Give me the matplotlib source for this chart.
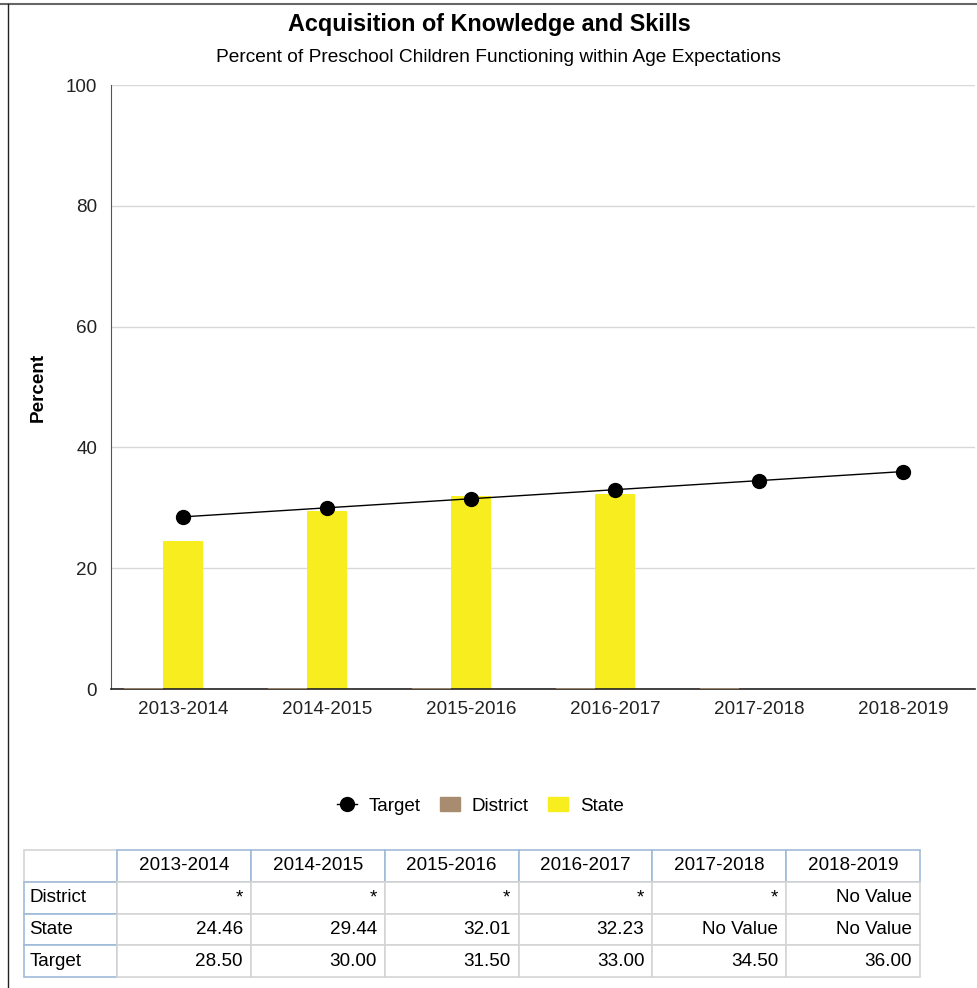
import matplotlib.pyplot as plt
from matplotlib.lines import Line2D
from matplotlib.patches import Patch
import numpy as np

plt.rcParams["font.family"] = ["Liberation Sans", "DejaVu Sans"]

years = ["2013-2014", "2014-2015", "2015-2016", "2016-2017", "2017-2018", "2018-2019"]
district = [0, 0, 0, 0, 0, np.nan]  # "*" suppressed values drawn as empty bars
state = [24.46, 29.44, 32.01, 32.23, np.nan, np.nan]
target = [28.50, 30.00, 31.50, 33.00, 34.50, 36.00]

district_txt = ["*", "*", "*", "*", "*", "No Value"]
state_txt = ["24.46", "29.44", "32.01", "32.23", "No Value", "No Value"]
target_txt = ["28.50", "30.00", "31.50", "33.00", "34.50", "36.00"]

YELLOW = "#F8EE1F"
BROWN = "#A78C70"
FS = 13.6

fig = plt.figure(figsize=(9.78, 9.88), dpi=100)
ax = fig.add_axes([111 / 978, 1 - 689 / 988, 864 / 978, 604 / 988])

x = np.arange(len(years))
w = 0.275
d = np.array(district, dtype=float)
ok = ~np.isnan(d)
ax.bar(x[ok] - w, d[ok], width=w, color=BROWN, edgecolor=BROWN, linewidth=1.2, zorder=4)
s = np.array(state, dtype=float)
ok = ~np.isnan(s)
ax.bar(x[ok], s[ok], width=w, color=YELLOW, zorder=2)
ax.plot(x, target, color="black", linewidth=1, marker="o", markersize=10, zorder=5)

ax.set_xlim(-0.5, 5.5)
ax.set_ylim(0, 100)
ax.set_yticks([0, 20, 40, 60, 80, 100])
ax.set_xticks(x)
ax.set_xticklabels(years)
ax.tick_params(axis="both", length=0, labelsize=FS, colors="#222222")
ax.tick_params(axis="x", pad=9)
ax.tick_params(axis="y", pad=10)
ax.grid(axis="y", color="#D8D8D8", linewidth=1, zorder=0)
ax.set_axisbelow(True)
for sp in ["top", "right"]:
    ax.spines[sp].set_visible(False)
ax.spines["left"].set_color("#555555")
ax.spines["bottom"].set_color("#222222")
ax.spines["bottom"].set_linewidth(1.2)
ax.set_ylabel("Percent", fontsize=FS, fontweight="bold", labelpad=14)

fig.text(489 / 978, 1 - 25 / 988, "Acquisition of Knowledge and Skills", ha="center", va="center",
         fontsize=16.8, fontweight="bold")
fig.text(499 / 978, 1 - 57 / 988, "Percent of Preschool Children Functioning within Age Expectations",
         ha="center", va="center", fontsize=13.8)

handles = [
    Line2D([0], [0], color="black", linewidth=1, marker="o", markersize=10),
    Patch(color=BROWN),
    Patch(color=YELLOW),
]
fig.legend(handles, ["Target", "District", "State"], loc="center", ncol=3,
           bbox_to_anchor=(480 / 978, 1 - 806 / 988), frameon=False, fontsize=FS,
           handlelength=1.1, handletextpad=0.6, columnspacing=1.0)

# data table
tax = fig.add_axes([24 / 978, 1 - 977 / 988, 896 / 978, 127 / 988])
tax.axis("off")
cells = [[""] + years, ["District"] + district_txt, ["State"] + state_txt, ["Target"] + target_txt]
col_w = [93 / 896] + [(896 - 93) / 6 / 896] * 6
tbl = tax.table(cellText=cells, colWidths=col_w, bbox=[0, 0, 1, 1])
tbl.auto_set_font_size(False)
BLUE = "#9FBBD8"
GRAY = "#D4D4D4"
for (r, c), cell in tbl.get_celld().items():
    cell.set_fontsize(FS)
    cell.set_linewidth(1.2)
    cell.PAD = 0.06
    if r == 0 and c == 0:
        cell.set_edgecolor(GRAY)
    elif r == 0 or c == 0:
        cell.set_edgecolor(BLUE)
    else:
        cell.set_edgecolor(GRAY)
    if c == 0:
        cell._loc = "left"
        cell.get_text().set_ha("left")
    elif r == 0:
        cell._loc = "center"
        cell.get_text().set_ha("center")
    else:
        cell._loc = "right"
        cell.get_text().set_ha("right")

# outer frame lines (top and left)
fig.add_artist(Line2D([0, 1], [1 - 4 / 988, 1 - 4 / 988], color="#666666", linewidth=1.5))
fig.add_artist(Line2D([8 / 978, 8 / 978], [0, 1 - 4 / 988], color="#222222", linewidth=1))

fig.savefig("out.png", dpi=100)
